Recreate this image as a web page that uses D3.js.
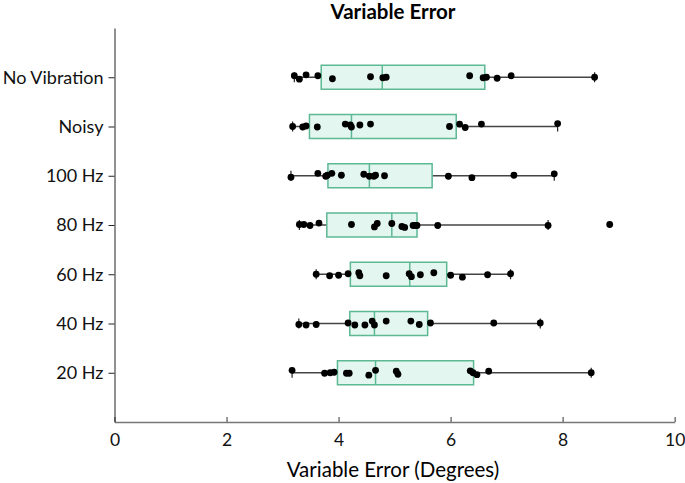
<!DOCTYPE html>
<html>
<head>
<meta charset="utf-8">
<script src="https://cdn.jsdelivr.net/npm/d3@7"></script>
<style>
  body { margin: 0; background: #fff; }
  svg { display: block; font-family: Lato, "Open Sans", sans-serif; }
</style>
</head>
<body>
<script>
//categories, top to bottom
var categories = ["No Vibration", "Noisy", "100 Hz", "80 Hz", "60 Hz", "40 Hz", "20 Hz"];
//box stats per category
var lowWhisker = [3.21, 3.18, 3.15, 3.30, 3.60, 3.29, 3.17];
var q1 = [3.69, 3.48, 3.81, 3.79, 4.21, 4.20, 3.98];
var medians = [4.78, 4.23, 4.55, 4.95, 5.27, 4.64, 4.66];
var q3 = [6.61, 6.10, 5.67, 5.40, 5.93, 5.59, 6.41];
var highWhisker = [8.57, 7.91, 7.85, 7.74, 7.07, 7.60, 8.51];
//individual participants (degrees)
var points = [
    [3.21, 3.30, 3.42, 3.63, 3.89, 4.57, 4.79, 4.85, 6.34, 6.58, 6.64, 6.83, 7.08, 8.57],
    [3.18, 3.36, 3.42, 3.62, 4.12, 4.21, 4.23, 4.38, 4.57, 5.98, 6.16, 6.26, 6.55, 7.91],
    [3.15, 3.63, 3.77, 3.80, 3.88, 4.05, 4.45, 4.55, 4.63, 4.66, 4.82, 5.96, 6.38, 7.13, 7.85],
    [3.30, 3.38, 3.49, 3.65, 4.23, 4.64, 4.69, 4.95, 5.13, 5.18, 5.33, 5.37, 5.40, 5.77, 7.74, 8.84],
    [3.60, 3.84, 4.00, 4.17, 4.36, 4.38, 4.85, 5.26, 5.30, 5.46, 5.70, 6.00, 6.21, 6.66, 7.07],
    [3.29, 3.42, 3.60, 4.17, 4.29, 4.47, 4.60, 4.64, 4.85, 5.29, 5.44, 5.64, 6.77, 7.60],
    [3.17, 3.75, 3.85, 3.92, 4.14, 4.19, 4.54, 4.66, 5.03, 5.06, 6.35, 6.40, 6.47, 6.68, 8.51]
];
//vertical jitter of each point, as a fraction of the row step
var jitter = [
    [-0.03, 0.04, -0.05, -0.03, 0.03, -0.01, 0.01, 0, -0.03, 0.01, 0, 0.02, -0.03, 0],
    [0, 0.01, -0.01, 0.01, -0.05, -0.03, 0.01, -0.03, -0.05, 0, -0.05, 0.02, -0.05, -0.06],
    [0.03, -0.05, 0.01, -0.01, -0.05, -0.01, -0.03, 0.01, 0.01, -0.01, 0, 0.01, 0.04, -0.01, -0.04],
    [-0.01, -0.01, 0.01, -0.04, -0.01, 0.04, -0.03, -0.03, 0.03, 0.05, 0.01, 0.01, 0.01, 0.01, 0.01, -0.01],
    [0, 0.03, 0.02, -0.01, -0.03, 0.03, 0.03, -0.01, 0.05, 0.01, -0.03, 0.02, 0.06, 0.01, -0.01],
    [0.02, 0.03, 0.02, -0.01, 0.03, 0.03, -0.05, 0.03, -0.05, -0.05, 0.02, -0.01, -0.01, -0.01],
    [-0.05, 0.01, 0, -0.01, 0.01, 0.01, 0.05, -0.05, -0.03, 0.03, -0.04, 0, 0.04, -0.03, 0]
];
var xTicks = [0, 2, 4, 6, 8, 10];

var width = 685,
    height = 483;
var svg = d3.select("body")
    .append("svg")
    .attr("width", width)
    .attr("height", height);

var x = d3.scaleLinear()
    .domain([0, 10])
    .range([114.5, 674.7]);
var y = d3.scalePoint()
    .domain(categories)
    .range([28, 422])
    .padding(1);
var step = y.step();
var boxH = 24;

//title
svg.append("text")
    .attr("x", 393)
    .attr("y", 19)
    .attr("text-anchor", "middle")
    .style("font-size", "20.5px")
    .style("font-weight", "bold")
    .text("Variable Error");

//x axis, ticks pointing up
var xAxis = svg.append("g")
    .attr("transform", "translate(0,422)")
    .call(d3.axisBottom(x).tickValues(xTicks).tickSizeInner(-5).tickSizeOuter(0).tickPadding(12));
xAxis.select(".domain").attr("stroke", "#777").attr("stroke-width", 1.5);
xAxis.selectAll(".tick line").attr("stroke", "#777").attr("stroke-width", 1.5);
xAxis.selectAll("text")
    .style("font-size", "17.5px")
    .style("font-family", "Lato, sans-serif")
    .attr("fill", "#111");

svg.append("text")
    .attr("x", 393)
    .attr("y", 477)
    .attr("text-anchor", "middle")
    .style("font-size", "20.5px")
    .text("Variable Error (Degrees)");

//y axis
var yAxis = svg.append("g")
    .attr("transform", "translate(114.5,0)")
    .call(d3.axisLeft(y).tickSizeInner(6).tickSizeOuter(0).tickPadding(5));
yAxis.select(".domain").attr("stroke", "#222");
yAxis.selectAll(".tick line").attr("stroke", "#222");
yAxis.selectAll("text")
    .style("font-size", "18px")
    .style("font-family", "Lato, sans-serif")
    .attr("fill", "#111");

//one group per category
var rows = svg.selectAll(".row")
    .data(categories)
    .enter()
    .append("g")
    .attr("class", "row")
    .attr("transform", function(d){ return "translate(0," + y(d) + ")"; });

//whisker line
rows.append("line")
    .attr("x1", function(d, i){ return x(lowWhisker[i]); })
    .attr("x2", function(d, i){ return x(highWhisker[i]); })
    .attr("stroke", "#444")
    .attr("stroke-width", 1.5);
//whisker caps
[lowWhisker, highWhisker].forEach(function(arr){
    rows.append("line")
        .attr("x1", function(d, i){ return x(arr[i]); })
        .attr("x2", function(d, i){ return x(arr[i]); })
        .attr("y1", -5)
        .attr("y2", 5)
        .attr("stroke", "#222")
        .attr("stroke-width", 1.2);
});

//box
rows.append("rect")
    .attr("x", function(d, i){ return x(q1[i]); })
    .attr("width", function(d, i){ return x(q3[i]) - x(q1[i]); })
    .attr("y", -boxH / 2)
    .attr("height", boxH)
    .attr("fill", "#e4f6f0")
    .attr("stroke", "#5db894")
    .attr("stroke-width", 1.5);
//median
rows.append("line")
    .attr("x1", function(d, i){ return x(medians[i]); })
    .attr("x2", function(d, i){ return x(medians[i]); })
    .attr("y1", -boxH / 2)
    .attr("y2", boxH / 2)
    .attr("stroke", "#5db894")
    .attr("stroke-width", 1.5);

//points
rows.each(function(d, i){
    d3.select(this).selectAll("circle")
        .data(points[i])
        .enter()
        .append("circle")
        .attr("cx", function(v){ return x(v); })
        .attr("cy", function(v, j){ return jitter[i][j] * step; })
        .attr("r", 3.4)
        .attr("fill", "#000");
});
</script>
</body>
</html>
